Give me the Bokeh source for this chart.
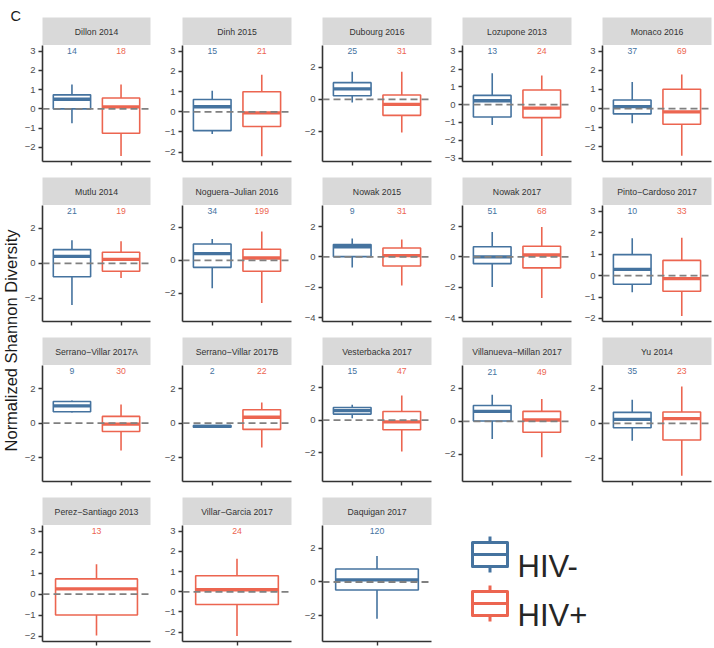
import math
from bokeh.plotting import figure
from bokeh.models import ColumnDataSource, Range1d, FactorRange, FixedTicker, Span, CustomJSTickFormatter, Spacer
from bokeh.layouts import row, column
from bokeh.transform import dodge
from bokeh.core.properties import value
from bokeh.embed import file_html
from bokeh.resources import INLINE

# ---------------- data ----------------
STUDIES = ["Dillon 2014", "Dinh 2015", "Dubourg 2016", "Lozupone 2013", "Monaco 2016",
           "Mutlu 2014", "Noguera\u2212Julian 2016", "Nowak 2015", "Nowak 2017", "Pinto\u2212Cardoso 2017",
           "Serrano\u2212Villar 2017A", "Serrano\u2212Villar 2017B", "Vesterbacka 2017", "Villanueva\u2212Millan 2017", "Yu 2014",
           "Perez\u2212Santiago 2013", "Villar\u2212Garcia 2017", "Daquigan 2017"]

GROUPS = ["HIV-", "HIV+"]

NEG_N   = [14, 15, 25, 13, 37, 21, 34, 9, 51, 10, 9, 2, 15, 21, 35, None, None, 120]
NEG_LO  = [-0.75, -1.10, -0.19, -1.14, -0.77, -2.37, -1.71, -0.70, -1.97, -0.78, 0.62, -0.24, 0.12, -1.06, -1.00, None, None, -2.17]
NEG_Q1  = [0.00, -0.93, 0.23, -0.69, -0.28, -0.76, -0.43, 0.02, -0.44, -0.40, 0.66, -0.24, 0.37, 0.02, -0.25, None, None, -0.47]
NEG_MED = [0.50, 0.25, 0.65, 0.22, 0.10, 0.40, 0.41, 0.67, 0.00, 0.29, 1.00, -0.19, 0.59, 0.60, 0.23, None, None, 0.12]
NEG_Q3  = [0.73, 0.61, 1.04, 0.52, 0.45, 0.78, 0.99, 0.81, 0.67, 0.98, 1.25, -0.14, 0.78, 0.96, 0.63, None, None, 0.77]
NEG_HI  = [1.27, 1.04, 1.72, 1.76, 1.39, 1.31, 1.30, 1.22, 1.64, 1.74, 1.31, -0.14, 0.94, 1.61, 1.36, None, None, 1.54]

POS_N   = [18, 21, 31, 24, 69, 19, 199, 31, 68, 33, 30, 22, 47, 49, 23, 13, 24, None]
POS_LO  = [-2.45, -2.20, -2.05, -2.88, -2.47, -0.83, -2.60, -1.88, -2.69, -1.88, -1.58, -1.41, -1.92, -2.17, -3.01, -1.97, -2.19, None]
POS_Q1  = [-1.27, -0.73, -0.99, -0.73, -0.82, -0.45, -0.67, -0.59, -0.72, -0.73, -0.48, -0.36, -0.59, -0.66, -0.96, -0.99, -0.63, None]
POS_MED = [0.10, -0.05, -0.31, -0.19, -0.17, 0.23, 0.14, 0.09, 0.13, -0.14, -0.06, 0.34, -0.10, 0.08, 0.27, 0.25, 0.10, None]
POS_Q3  = [0.57, 0.99, 0.27, 0.82, 1.01, 0.63, 0.67, 0.59, 0.70, 0.71, 0.39, 0.77, 0.53, 0.60, 0.65, 0.73, 0.79, None]
POS_HI  = [1.27, 1.83, 1.72, 1.64, 1.78, 1.25, 1.75, 1.15, 1.97, 1.77, 1.08, 1.19, 1.51, 1.35, 2.11, 1.43, 1.63, None]

Y_LO = [-2.74, -2.46, -3.86, -3.19, -2.77, -3.31, -3.73, -4.24, -4.24, -2.14,
        -3.37, -3.37, -3.76, -3.63, -3.34, -2.25, -2.46, -3.52]
Y_HI = [3.30, 3.28, 3.35, 3.32, 3.30, 3.29, 3.34, 3.38, 3.38, 3.27,
        3.33, 3.33, 3.35, 3.37, 3.32, 3.27, 3.28, 3.34]

T_ONE = [-3, -2, -1, 0, 1, 2, 3]
T_TWO = [-4, -2, 0, 2]
Y_TICKS = [T_ONE, T_ONE, T_TWO, T_ONE, T_ONE, T_TWO, T_TWO, T_TWO, T_TWO, T_ONE,
           T_TWO, T_TWO, T_TWO, T_TWO, T_TWO, T_ONE, T_ONE, T_TWO]

COUNT_Y = 3
Y_LABEL = "Normalized Shannon Diversity"
PANEL_TAG = "C"
LEGEND_LABELS = ["HIV-", "HIV+"]

# ---------------- style ----------------
FONT = "Liberation Sans"
BLUE = "#45739F"
RED = "#EC6550"
COLORS = {"HIV-": BLUE, "HIV+": RED}
AXIS_COL = "#333333"

LEFT_W = 21
COL_W = [139, 140, 140, 140, 133]
COL_BL = [20, 22, 22, 22, 22]
FRAME_W = 109
STRIP_H = 28
FRAME_H = 116
GAP = 16
LAST_GAP = 5
TOP_H = 17
NCOL = 5


def make_strip(title, w, bl):
    s = figure(width=w, height=STRIP_H, x_range=Range1d(0, 1), y_range=Range1d(0, 1),
               output_backend="svg", toolbar_location=None,
               min_border_left=bl, min_border_right=w - bl - FRAME_W,
               min_border_top=0, min_border_bottom=0,
               x_axis_type=None, y_axis_type=None,
               background_fill_color="#D9D9D9", border_fill_color="white",
               outline_line_color=None)
    s.text(x=[0.5], y=[0.5], text=[title], text_align="center", text_baseline="middle",
           text_font=value(FONT), text_font_size="8.7px", text_color="#333333")
    return s


def make_panel(i, w, bl, bottom_gap):
    grp, lo, q1, med, q3, hi, col, n = [], [], [], [], [], [], [], []
    for g, N, LO, Q1, MED, Q3, HI in (("HIV-", NEG_N, NEG_LO, NEG_Q1, NEG_MED, NEG_Q3, NEG_HI),
                                      ("HIV+", POS_N, POS_LO, POS_Q1, POS_MED, POS_Q3, POS_HI)):
        if N[i] is None:
            continue
        grp.append(g); lo.append(LO[i]); q1.append(Q1[i]); med.append(MED[i])
        q3.append(Q3[i]); hi.append(HI[i]); col.append(COLORS[g]); n.append(str(N[i]))
    src = ColumnDataSource(dict(grp=grp, lo=lo, q1=q1, med=med, q3=q3, hi=hi, color=col, n=n))
    bw = 0.76 if len(grp) == 2 else 0.91

    p = figure(width=w, height=FRAME_H + bottom_gap,
               x_range=FactorRange(factors=grp, range_padding=0.1, range_padding_units="absolute"),
               y_range=Range1d(Y_LO[i], Y_HI[i]),
               output_backend="svg", toolbar_location=None,
               min_border_left=bl, min_border_right=w - bl - FRAME_W,
               min_border_top=0, min_border_bottom=bottom_gap,
               outline_line_color=None, background_fill_color="white", border_fill_color="white")
    p.grid.visible = False

    p.segment(x0="grp", x1="grp", y0="q3", y1="hi", source=src, line_color="color", line_width=1.6)
    p.segment(x0="grp", x1="grp", y0="lo", y1="q1", source=src, line_color="color", line_width=1.6)
    p.vbar(x="grp", width=bw, top="q3", bottom="q1", source=src,
           fill_color="white", line_color="color", line_width=1.6)
    p.segment(x0=dodge("grp", -bw / 2, range=p.x_range), x1=dodge("grp", bw / 2, range=p.x_range),
              y0="med", y1="med", source=src, line_color="color", line_width=3.3)
    p.text(x="grp", y=COUNT_Y, text="n", source=src, text_color="color",
           text_align="center", text_baseline="middle",
           text_font=value(FONT), text_font_size="8.7px")
    p.add_layout(Span(location=0, dimension="width", line_color="#808080",
                      line_width=1.8, line_dash="7 4"))

    for ax in (p.xaxis[0], p.yaxis[0]):
        ax.axis_line_color = AXIS_COL
        ax.axis_line_width = 1.6
        ax.major_tick_line_color = AXIS_COL
        ax.major_tick_line_width = 1.4
        ax.major_tick_out = 4
        ax.major_tick_in = 0
        ax.minor_tick_line_color = None
    p.yaxis.ticker = FixedTicker(ticks=Y_TICKS[i])
    p.yaxis.formatter = CustomJSTickFormatter(
        code="return tick < 0 ? '\u2212' + (-tick).toString() : tick.toString();")
    p.yaxis.major_label_text_font = FONT
    p.yaxis.major_label_text_font_size = "9.5px"
    p.yaxis.major_label_text_color = "#4D4D4D"
    p.yaxis.major_label_standoff = 3
    # the categorical x axis shows ticks but no labels
    p.xaxis.major_label_text_font_size = "1px"
    p.xaxis.major_label_text_color = None
    p.xaxis.major_label_standoff = 0
    return column(make_strip(STUDIES[i], w, bl), p, spacing=0)


def make_legend(width, height):
    lg = figure(width=width, height=height, x_range=Range1d(0, width), y_range=Range1d(height, 0),
                output_backend="svg", toolbar_location=None, min_border=0,
                x_axis_type=None, y_axis_type=None, outline_line_color=None)
    for k, lab in enumerate(LEGEND_LABELS):
        c = COLORS[lab]
        top = 45 + k * 49
        bot = top + 24
        lg.segment(x0=[49.5, 49.5], x1=[49.5, 49.5], y0=[top - 6, bot], y1=[top, bot + 6],
                   line_color=c, line_width=3)
        lg.quad(left=[32], right=[67], top=[top], bottom=[bot], fill_color="white",
                line_color=c, line_width=3, line_join="round")
        lg.segment(x0=[32], x1=[67], y0=[(top + bot) / 2], y1=[(top + bot) / 2],
                   line_color=c, line_width=3)
        lg.text(x=[77], y=[bot], text=[lab], text_baseline="alphabetic", text_align="left",
                text_font=value(FONT), text_font_size="31px", text_color="#262626")
    return lg


rows = []
n_rows = math.ceil(len(STUDIES) / NCOL)
for r in range(n_rows):
    last = (r == n_rows - 1)
    gap = LAST_GAP if last else GAP
    idx = list(range(r * NCOL, min((r + 1) * NCOL, len(STUDIES))))
    items = [make_panel(i, COL_W[c], COL_BL[c], gap) for c, i in enumerate(idx)]
    if len(items) < NCOL:
        items.append(make_legend(sum(COL_W[len(items):]), STRIP_H + FRAME_H + gap))
    rows.append(row(*items, spacing=0))
grid_h = (n_rows - 1) * (STRIP_H + FRAME_H + GAP) + (STRIP_H + FRAME_H + LAST_GAP)
grid = column(Spacer(width=sum(COL_W), height=TOP_H), *rows, spacing=0)

full_h = TOP_H + grid_h
left = figure(width=LEFT_W, height=full_h, x_range=Range1d(0, LEFT_W), y_range=Range1d(full_h, 0),
              output_backend="svg", toolbar_location=None, min_border=0,
              x_axis_type=None, y_axis_type=None, outline_line_color=None)
left.text(x=[10], y=[340], text=[Y_LABEL], angle=math.pi / 2,
          text_align="center", text_baseline="middle",
          text_font=value(FONT), text_font_size="16.5px", text_color="#1A1A1A")
left.text(x=[10], y=[15], text=[PANEL_TAG], text_align="left", text_baseline="alphabetic",
          text_font=value(FONT), text_font_size="14.5px", text_color="#1A1A1A")

layout = row(left, grid, spacing=0)

open("out.html", "w").write(file_html(layout, INLINE))
